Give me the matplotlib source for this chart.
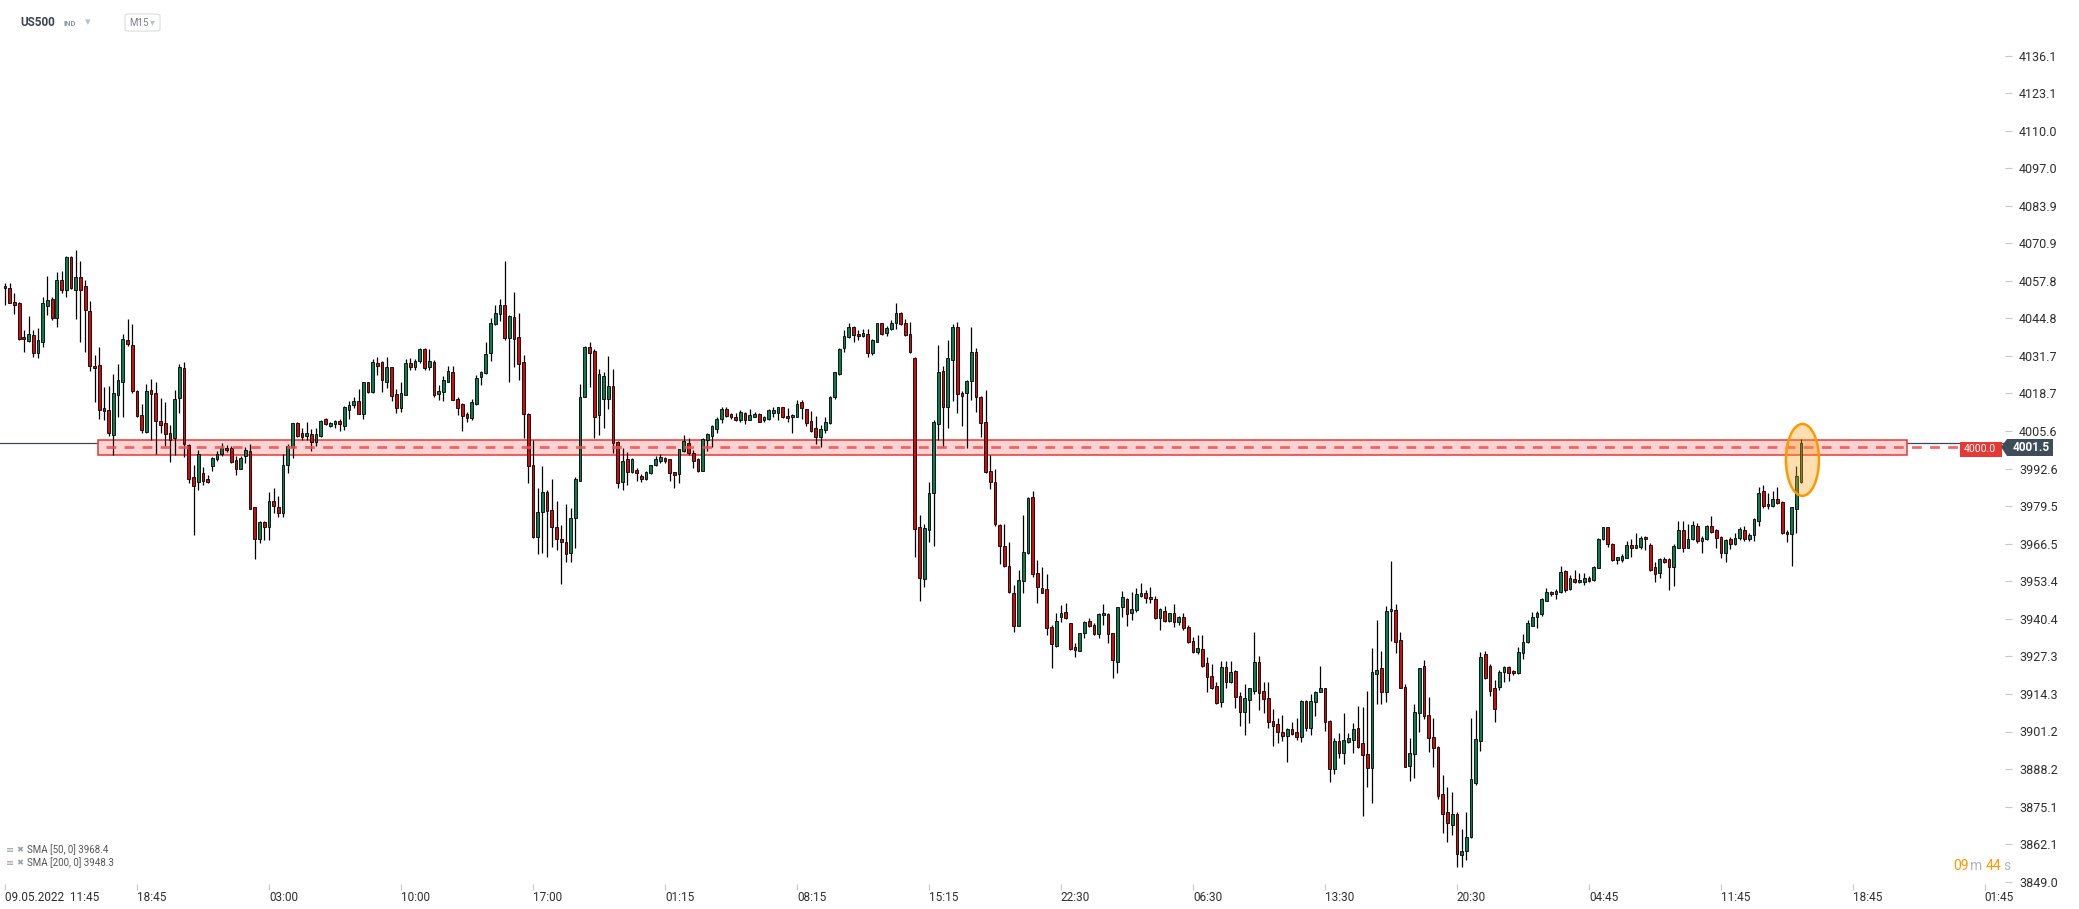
import numpy as np
import matplotlib.pyplot as plt
from matplotlib.patches import Rectangle, Ellipse, FancyBboxPatch, Polygon

# US500 M15 candles (O/H/L/C)
opens = [
    4056.0, 4055.5, 4050.4, 4050.1, 4038.3, 4037.0, 4038.9, 4032.8, 4036.4, 4049.2,
    4051.4, 4045.0, 4058.0, 4054.7, 4066.1, 4054.7, 4059.0, 4056.2, 4047.3, 4028.2,
    4028.4, 4013.6, 4013.1, 4004.3, 4018.3, 4022.8, 4037.2, 4035.4, 4019.5, 4011.2,
    4005.4, 4019.9, 4019.0, 4009.0, 4008.4, 4005.1, 4003.3, 4017.0, 4027.7, 4000.7,
    3989.5, 3987.8, 3991.2, 3988.9, 3993.6, 3996.0, 3997.7, 3999.7, 3999.9, 3995.5,
    3992.5, 3996.8, 3998.7, 3979.1, 3968.2, 3973.9, 3972.1, 3981.2, 3979.3, 3977.0,
    3993.7, 4000.2, 4008.3,
    4004.8, 4004.0, 4004.5, 4001.7, 4004.0, 4009.7, 4007.5, 4008.1, 4009.1, 4007.5,
    4013.1, 4014.5, 4016.1, 4011.7, 4022.6, 4019.1, 4029.3, 4029.5, 4022.8, 4027.8,
    4018.4, 4013.8, 4018.3, 4029.3, 4028.0, 4029.8, 4034.2, 4027.8, 4029.6, 4018.5,
    4019.3, 4022.8, 4026.2, 4016.7, 4014.9, 4011.6, 4010.0, 4014.9, 4024.3, 4025.7,
    4032.7, 4042.7, 4046.2, 4049.5, 4038.1, 4045.2, 4038.2, 4029.5, 4011.5, 3993.8,
    3968.7, 3977.4, 3984.3, 3978.2, 3972.4, 3968.0, 3967.2, 3963.1, 3975.3, 3988.4,
    4017.4, 4035.0, 4033.5, 4011.2,
    4016.9, 4016.9, 4021.3, 4001.7, 3988.0, 3995.8, 3991.5, 3992.1, 3990.0, 3989.1,
    3990.9, 3993.7, 3995.3, 3996.2, 3995.8, 3991.3, 3990.8, 3998.8, 4001.6, 3997.9,
    3995.9, 3991.9, 4002.5, 4003.9, 4006.2, 4009.7, 4013.2, 4011.5, 4010.4, 4009.5,
    4012.0, 4009.4, 4010.6, 4011.6, 4009.3, 4009.7, 4011.8, 4011.8, 4013.9, 4010.9,
    4010.4, 4010.4, 4015.6, 4013.2, 4009.0, 4006.6, 4003.7, 4006.0, 4008.3, 4017.4,
    4025.5, 4034.4, 4038.2, 4041.9, 4039.4, 4038.8, 4039.3, 4032.7, 4036.7, 4043.1,
    4039.6, 4041.0, 4043.1,
    4046.6, 4043.1, 4039.3, 4030.9, 3972.4, 3954.1, 3971.2, 3984.0, 4008.0, 4026.6,
    4013.9, 4030.3, 4041.9, 4018.8, 4018.8, 4023.0, 4033.2, 4017.6, 4008.9, 3991.9,
    3988.0, 3972.8, 3965.5, 3958.8, 3949.2, 3938.0, 3953.6, 3963.1, 3982.6, 3956.2,
    3951.0, 3950.6, 3937.4, 3931.0, 3940.9, 3942.6, 3938.8, 3930.7, 3929.3, 3935.3,
    3939.6, 3938.2, 3935.0, 3941.6, 3942.0, 3935.3, 3925.5, 3944.6, 3947.3, 3942.3,
    3943.4, 3948.4, 3949.2, 3947.8, 3947.4, 3940.5, 3943.2, 3939.7, 3942.3, 3939.4,
    3940.9, 3937.6, 3932.8, 3929.0,
    3929.8, 3924.9, 3920.6, 3917.0, 3911.6, 3923.5, 3918.3, 3922.2, 3913.5, 3908.1,
    3912.1, 3915.3, 3925.2, 3915.3, 3912.7, 3904.8, 3903.7, 3901.1, 3899.7, 3901.9,
    3900.9, 3899.4, 3911.9, 3902.5, 3911.3, 3914.8, 3916.2, 3904.8, 3888.1, 3897.9,
    3893.6, 3897.4, 3898.1, 3902.3, 3897.1, 3893.3, 3888.4, 3921.1, 3923.2, 3914.8,
    3943.1, 3943.4, 3933.0, 3916.6, 3889.3, 3893.3, 3907.5, 3924.0, 3906.9, 3899.3,
    3895.8, 3879.4, 3873.1, 3868.7, 3872.4, 3858.3, 3859.6, 3864.6, 3883.2, 3897.9,
    3928.1, 3924.1, 3916.4, 3916.8,
    3922.0, 3923.7, 3922.2, 3921.4, 3928.4, 3932.4, 3938.0, 3940.9, 3941.9, 3946.7,
    3949.6, 3948.9, 3949.6, 3957.0, 3950.6, 3954.2, 3953.0, 3953.3, 3954.4, 3953.8,
    3958.1, 3968.0, 3972.2, 3966.3, 3960.8, 3960.8, 3961.6, 3966.0, 3965.1, 3965.4,
    3968.9, 3966.0, 3958.3, 3956.2, 3961.2, 3961.0, 3958.3, 3965.1, 3971.2, 3965.1,
    3968.0, 3972.6, 3967.4, 3968.0, 3972.6, 3971.2, 3968.7, 3963.4, 3968.0, 3966.3,
    3968.3, 3971.2, 3968.2, 3969.5, 3974.4, 3984.9, 3980.3, 3979.4, 3981.9, 3980.8,
    3970.5, 3969.7, 3978.7, 3988.0,
]
highs = [
    4057.2, 4056.9, 4053.5, 4050.4, 4040.7, 4045.6, 4040.7, 4041.6, 4052.1, 4059.5,
    4052.1, 4060.8, 4061.2, 4066.6, 4066.6, 4068.5, 4064.7, 4058.1, 4050.8, 4032.0,
    4034.7, 4021.0, 4021.2, 4025.4, 4028.9, 4039.3, 4044.5, 4042.8, 4019.9, 4015.0,
    4021.9, 4023.6, 4022.8, 4017.1, 4015.6, 4007.7, 4019.9, 4028.9, 4029.5, 4001.1,
    3993.8, 3999.0, 3993.2, 3990.5, 3996.7, 3998.7, 4001.3, 4000.9, 4000.4, 3996.9,
    3996.9, 4000.2, 4001.0, 3979.3, 3974.3, 3974.3, 3984.4, 3985.7, 3983.0, 3997.8,
    4001.1, 4008.5, 4008.7,
    4006.6, 4008.7, 4006.2, 4006.6, 4009.5, 4010.0, 4008.8, 4009.5, 4009.7, 4014.3,
    4015.9, 4017.4, 4020.1, 4022.8, 4022.8, 4030.7, 4031.3, 4029.8, 4031.3, 4028.0,
    4020.1, 4022.8, 4030.7, 4030.9, 4030.6, 4034.4, 4034.5, 4034.0, 4030.3, 4021.6,
    4024.8, 4028.3, 4028.3, 4017.6, 4015.3, 4012.4, 4016.7, 4025.1, 4026.5, 4036.7,
    4044.8, 4049.5, 4051.4, 4064.8, 4046.0, 4054.1, 4046.8, 4032.1, 4011.8, 4002.5,
    3985.7, 3993.5, 3985.1, 3988.9, 3981.3, 3973.0, 3980.3, 3978.8, 3989.8, 4021.9,
    4035.2, 4036.5, 4034.0, 4027.2,
    4026.3, 4031.7, 4027.2, 4002.0, 3999.6, 3998.5, 3996.2, 3992.7, 3990.7, 3991.9,
    3993.9, 3997.0, 3997.7, 3996.7, 3996.0, 3991.5, 3999.5, 4004.3, 4003.1, 3999.1,
    3996.3, 4003.3, 4004.9, 4007.6, 4010.6, 4014.1, 4014.1, 4012.0, 4011.8, 4013.0,
    4012.4, 4013.3, 4012.3, 4011.8, 4010.9, 4013.2, 4013.9, 4014.1, 4014.1, 4013.5,
    4011.6, 4016.4, 4016.4, 4013.4, 4012.6, 4010.9, 4007.7, 4010.4, 4017.8, 4026.3,
    4034.4, 4040.8, 4043.1, 4042.2, 4040.8, 4041.0, 4041.0, 4037.5, 4043.3, 4043.3,
    4042.2, 4044.2, 4050.0,
    4047.1, 4044.5, 4043.4, 4031.3, 3976.5, 3973.3, 3988.0, 4009.5, 4035.6, 4028.3,
    4037.3, 4042.9, 4043.4, 4019.7, 4023.4, 4041.7, 4034.4, 4017.9, 4019.9, 3997.3,
    3992.3, 3973.3, 3973.3, 3967.2, 3952.1, 3957.3, 3976.5, 3982.8, 3984.8, 3960.8,
    3958.2, 3955.9, 3938.2, 3942.3, 3945.2, 3946.0, 3939.0, 3932.1, 3935.6, 3939.7,
    3940.8, 3939.0, 3942.3, 3945.6, 3942.3, 3935.6, 3944.6, 3950.2, 3947.7, 3949.6,
    3951.0, 3952.9, 3950.4, 3951.5, 3948.3, 3944.0, 3944.8, 3942.5, 3945.5, 3941.4,
    3942.5, 3938.2, 3934.2, 3934.7,
    3934.7, 3927.2, 3924.7, 3918.3, 3925.7, 3925.7, 3925.7, 3922.6, 3915.0, 3917.6,
    3916.4, 3935.7, 3927.4, 3918.5, 3918.5, 3909.0, 3905.8, 3906.9, 3902.3, 3904.4,
    3905.8, 3912.1, 3912.1, 3914.1, 3915.3, 3924.0, 3916.4, 3905.2, 3898.8, 3900.6,
    3907.5, 3900.6, 3904.1, 3910.1, 3909.6, 3915.3, 3930.1, 3940.0, 3929.2, 3944.9,
    3960.5, 3945.4, 3935.7, 3917.6, 3898.8, 3910.6, 3923.4, 3926.1, 3913.1, 3905.8,
    3896.3, 3886.1, 3881.8, 3880.0, 3873.1, 3867.3, 3873.1, 3905.8, 3908.7, 3928.7,
    3929.2, 3924.6, 3919.1, 3922.6,
    3924.0, 3924.0, 3922.6, 3930.5, 3935.0, 3939.9, 3942.9, 3943.1, 3947.5, 3951.0,
    3950.0, 3950.6, 3958.7, 3957.3, 3955.6, 3957.3, 3956.2, 3956.2, 3955.2, 3958.7,
    3968.3, 3972.4, 3972.4, 3966.6, 3962.0, 3962.8, 3967.4, 3968.0, 3970.3, 3969.1,
    3969.1, 3966.8, 3960.2, 3961.4, 3961.7, 3961.4, 3966.3, 3974.4, 3974.4, 3973.2,
    3974.4, 3973.6, 3969.1, 3973.0, 3976.1, 3971.6, 3969.1, 3968.0, 3968.7, 3970.1,
    3972.4, 3972.6, 3970.1, 3975.3, 3986.3, 3986.9, 3984.0, 3984.9, 3986.1, 3981.4,
    3971.2, 3979.3, 3993.5, 4002.9,
]
lows = [
    4049.4, 4050.0, 4046.3, 4037.2, 4033.2, 4036.7, 4031.2, 4030.9, 4034.9, 4045.9,
    4044.2, 4041.9, 4053.5, 4052.1, 4054.9, 4044.7, 4036.7, 4033.2, 4026.6, 4015.8,
    4009.8, 4009.4, 4003.9, 3997.3, 4010.6, 4010.6, 4035.2, 4018.7, 4010.6, 4005.0,
    4005.0, 4002.5, 3997.8, 4004.8, 4000.4, 3995.0, 3997.3, 4012.0, 3996.7, 3987.4,
    3969.5, 3985.3, 3986.8, 3987.6, 3991.8, 3995.3, 3996.9, 3998.3, 3994.4, 3990.3,
    3992.3, 3994.4, 3978.4, 3961.3, 3966.6, 3967.7, 3967.7, 3977.0, 3975.6, 3975.8,
    3991.2, 3996.4, 4003.6,
    4002.5, 4002.5, 3998.8, 4000.4, 4003.7, 4007.7, 4007.2, 4006.6, 4005.8, 4006.0,
    4009.7, 4013.8, 4011.5, 4009.7, 4019.0, 4018.8, 4025.1, 4019.3, 4020.5, 4015.9,
    4011.8, 4012.4, 4018.2, 4026.9, 4026.9, 4029.2, 4026.9, 4026.9, 4017.4, 4016.4,
    4015.9, 4022.5, 4016.4, 4011.2, 4005.7, 4008.9, 4009.5, 4014.7, 4021.6, 4025.5,
    4030.0, 4042.5, 4043.9, 4037.3, 4022.8, 4028.0, 4023.2, 4003.1, 3987.5, 3968.3,
    3962.9, 3963.1, 3962.0, 3965.2, 3964.3, 3952.4, 3960.2, 3960.2, 3964.9, 3988.4,
    4017.4, 4021.1, 4003.1, 4004.3,
    4006.6, 4013.2, 3997.9, 3986.0, 3985.2, 3986.7, 3991.2, 3988.1, 3988.0, 3988.6,
    3990.7, 3993.5, 3994.4, 3994.4, 3988.4, 3986.0, 3987.5, 3998.2, 3997.3, 3992.7,
    3991.4, 3991.9, 3998.8, 4000.0, 4004.9, 4008.3, 4010.6, 4009.7, 4009.2, 4008.9,
    4008.1, 4009.3, 4010.4, 4008.7, 4008.8, 4009.5, 4010.4, 4009.3, 4010.2, 4008.8,
    4005.1, 4010.4, 4009.7, 4007.4, 4005.4, 4001.1, 4000.2, 4005.1, 4008.0, 4016.7,
    4025.1, 4033.2, 4037.9, 4036.4, 4037.3, 4038.2, 4031.3, 4032.1, 4036.4, 4039.0,
    4038.5, 4040.8, 4041.0,
    4042.5, 4038.7, 4032.7, 3961.7, 3946.7, 3951.5, 3967.2, 3965.7, 4002.5, 4000.2,
    4006.8, 4015.9, 4012.0, 4007.4, 3999.6, 4016.4, 4012.4, 4003.5, 3991.0, 3985.4,
    3972.6, 3959.4, 3958.3, 3949.2, 3935.9, 3938.0, 3949.2, 3962.9, 3955.0, 3945.8,
    3949.2, 3934.8, 3923.2, 3930.7, 3939.4, 3940.3, 3929.5, 3927.2, 3929.2, 3933.6,
    3937.6, 3934.8, 3933.8, 3938.2, 3932.1, 3919.9, 3921.7, 3941.1, 3938.0, 3940.0,
    3942.9, 3947.8, 3946.0, 3945.8, 3940.2, 3936.5, 3939.4, 3939.4, 3937.4, 3938.2,
    3936.5, 3931.8, 3928.6, 3928.1,
    3923.7, 3914.8, 3916.0, 3910.8, 3909.8, 3916.2, 3917.9, 3909.5, 3903.2, 3900.0,
    3904.0, 3914.1, 3908.7, 3907.7, 3902.3, 3896.3, 3897.3, 3898.0, 3890.7, 3900.0,
    3898.2, 3897.7, 3901.4, 3900.0, 3906.7, 3914.8, 3901.4, 3883.8, 3886.3, 3891.9,
    3889.9, 3897.3, 3893.9, 3895.6, 3871.9, 3882.0, 3876.2, 3910.6, 3910.6, 3911.6,
    3932.7, 3928.4, 3916.2, 3889.0, 3884.0, 3885.2, 3900.9, 3905.6, 3894.2, 3889.0,
    3877.6, 3866.0, 3862.7, 3865.2, 3854.2, 3854.2, 3856.5, 3864.1, 3882.6, 3894.5,
    3919.4, 3913.6, 3904.4, 3915.6,
    3918.5, 3918.9, 3920.8, 3921.2, 3926.3, 3932.1, 3937.9, 3937.3, 3941.5, 3946.5,
    3948.4, 3947.1, 3949.2, 3949.8, 3950.4, 3952.9, 3952.7, 3952.1, 3953.3, 3953.6,
    3957.9, 3967.8, 3965.2, 3960.6, 3959.3, 3960.2, 3961.4, 3962.0, 3964.9, 3964.5,
    3964.3, 3957.1, 3953.3, 3954.4, 3959.7, 3950.4, 3951.8, 3964.9, 3963.7, 3964.9,
    3967.8, 3966.8, 3963.1, 3967.8, 3970.3, 3964.9, 3961.4, 3960.2, 3964.5, 3966.0,
    3967.8, 3967.4, 3967.5, 3967.5, 3972.6, 3978.8, 3978.5, 3979.1, 3980.3, 3969.7,
    3967.2, 3958.8, 3970.3, 3987.7,
]
closes = [
    4055.2, 4050.2, 4049.6, 4037.7, 4037.5, 4039.2, 4032.8, 4037.2, 4050.0, 4051.0,
    4044.9, 4058.0, 4054.7, 4066.1, 4055.2, 4059.0, 4054.7, 4047.8, 4028.3, 4027.4,
    4013.0, 4012.7, 4004.8, 4018.7, 4023.2, 4037.5, 4035.7, 4019.7, 4010.9, 4006.0,
    4019.5, 4018.6, 4009.2, 4007.8, 4004.6, 4002.5, 4016.6, 4028.0, 4001.1, 3988.8,
    3986.6, 3997.8, 3988.3, 3988.0, 3996.1, 3997.8, 3999.6, 3999.0, 3994.7, 3992.5,
    3996.4, 3999.0, 3978.7, 3968.0, 3973.9, 3972.1, 3981.2, 3979.6, 3977.2, 3993.7,
    4000.5, 4008.3, 4004.0,
    4003.7, 4005.0, 4001.7, 4004.5, 4009.0, 4008.0, 4008.4, 4009.1, 4008.0, 4013.9,
    4014.6, 4016.1, 4011.7, 4022.6, 4019.2, 4029.6, 4028.4, 4023.2, 4027.8, 4017.9,
    4013.8, 4018.8, 4029.2, 4028.0, 4030.0, 4034.0, 4027.6, 4030.0, 4018.2, 4019.6,
    4023.4, 4026.4, 4016.5, 4013.8, 4011.0, 4010.0, 4015.6, 4024.0, 4026.0, 4032.3,
    4043.1, 4046.6, 4049.5, 4038.1, 4045.5, 4037.7, 4028.8, 4011.6, 3993.3, 3968.9,
    3977.4, 3984.3, 3978.0, 3972.2, 3968.0, 3967.0, 3962.9, 3975.3, 3989.0, 4017.6,
    4035.0, 4032.7, 4010.6, 4025.4,
    4024.8, 4021.3, 4001.4, 3987.7, 3995.1, 3991.5, 3995.8, 3990.9, 3988.9, 3991.5,
    3993.7, 3995.8, 3996.5, 3995.3, 3991.2, 3990.5, 3999.3, 4002.2, 3997.9, 3995.3,
    3991.9, 4002.8, 4004.5, 4007.2, 4009.8, 4013.3, 4011.0, 4010.4, 4009.5, 4012.2,
    4009.3, 4011.2, 4011.6, 4008.9, 4010.6, 4013.0, 4013.0, 4013.9, 4010.4, 4010.1,
    4011.2, 4015.0, 4013.5, 4008.3, 4005.8, 4003.7, 4006.2, 4008.7, 4017.6, 4026.1,
    4034.1, 4038.7, 4041.7, 4038.9, 4038.5, 4039.7, 4032.7, 4037.3, 4043.1, 4039.3,
    4041.4, 4043.1, 4046.6,
    4042.9, 4039.0, 4033.0, 3971.5, 3954.4, 3971.8, 3984.0, 4008.9, 4026.2, 4013.9,
    4030.9, 4041.7, 4018.4, 4017.9, 4023.0, 4033.0, 4017.4, 4008.3, 3991.5, 3988.0,
    3973.2, 3965.5, 3958.8, 3949.8, 3938.0, 3953.9, 3963.5, 3982.3, 3956.0, 3951.3,
    3949.5, 3937.1, 3931.5, 3939.7, 3942.5, 3940.5, 3929.8, 3929.5, 3935.3, 3939.4,
    3937.9, 3935.0, 3942.0, 3942.3, 3935.0, 3926.1, 3944.4, 3947.8, 3942.0, 3943.7,
    3949.0, 3949.2, 3947.5, 3947.1, 3940.5, 3943.7, 3939.7, 3942.3, 3939.4, 3940.9,
    3937.1, 3932.4, 3929.0, 3930.1,
    3924.1, 3920.3, 3916.2, 3911.2, 3923.5, 3918.3, 3921.8, 3913.1, 3908.1, 3912.7,
    3916.2, 3925.2, 3914.5, 3912.4, 3904.4, 3903.2, 3901.1, 3899.7, 3901.9, 3900.3,
    3899.4, 3911.8, 3902.5, 3911.8, 3914.8, 3916.2, 3904.4, 3888.1, 3897.9, 3893.6,
    3898.2, 3899.1, 3902.1, 3895.9, 3893.0, 3888.4, 3921.8, 3922.6, 3914.8, 3943.1,
    3943.8, 3932.4, 3916.4, 3889.0, 3893.6, 3907.9, 3923.2, 3906.7, 3899.1, 3895.6,
    3878.9, 3872.7, 3869.3, 3872.4, 3858.5, 3859.8, 3864.6, 3884.6, 3898.6, 3927.0,
    3919.9, 3915.4, 3908.9, 3922.0,
    3923.7, 3921.4, 3921.4, 3928.7, 3932.4, 3939.0, 3941.1, 3942.3, 3947.1, 3949.8,
    3948.9, 3950.1, 3956.7, 3950.4, 3954.4, 3953.3, 3953.9, 3954.4, 3953.6, 3958.3,
    3968.0, 3972.2, 3966.3, 3960.8, 3961.7, 3962.3, 3966.0, 3964.9, 3966.0, 3968.6,
    3968.0, 3957.3, 3955.8, 3961.2, 3960.2, 3958.3, 3965.7, 3971.2, 3965.1, 3968.0,
    3973.0, 3967.5, 3968.6, 3972.6, 3970.6, 3968.6, 3963.4, 3967.8, 3966.3, 3968.3,
    3971.6, 3968.0, 3969.5, 3974.9, 3984.2, 3979.6, 3979.4, 3981.9, 3980.5, 3970.1,
    3969.7, 3979.1, 3990.0, 4001.5,
]

y_ticks = [4136.1, 4123.1, 4110.0, 4097.0, 4083.9, 4070.9, 4057.8, 4044.8, 4031.7,
           4018.7, 4005.6, 3992.6, 3979.5, 3966.5, 3953.4, 3940.4, 3927.3, 3914.3,
           3901.2, 3888.2, 3875.1, 3862.1, 3849.0]
x_tick_labels = ['09.05.2022  11:45', '18:45', '03:00', '10:00', '17:00', '01:15',
                 '08:15', '15:15', '22:30', '06:30', '13:30', '20:30', '04:45',
                 '11:45', '18:45', '01:45']
bars_per_label = 28

level = 4000.0
zone_low, zone_high = 3997.2, 4002.4
last_price = 4001.5
sma_text = ['SMA [50, 0] 3968.4', 'SMA [200, 0] 3948.3']

o = np.array(opens)
h = np.array(highs)
l = np.array(lows)
c = np.array(closes)
x = np.arange(len(c))

W, H = 2079, 909
fig = plt.figure(figsize=(W / 100, H / 100), dpi=100)
fig.patch.set_facecolor('white')
ax = fig.add_axes([0, 25 / H, 2005 / W, (884 - 30) / H])
ax.set_xlim(-1.06, 424.27)
ax.set_ylim(3848.2, 4145.0)

green = '#0b7d4c'
red = '#d10a0a'
up = c >= o
colors = np.where(up, green, red)

# wicks then bodies
ax.vlines(x, l, h, color='black', lw=0.9, zorder=2)
body_low = np.minimum(o, c)
body_h = np.maximum(np.abs(c - o), 0.5)
ax.bar(x, body_h, bottom=body_low, width=0.58, color=colors,
       edgecolor='black', linewidth=0.6, zorder=3)

# current price line
ax.axhline(last_price, color='#3d4a55', lw=0.9, zorder=1)

# support zone and 4000 level
ax.add_patch(Rectangle((19.7, zone_low), 403.5 - 19.7, zone_high - zone_low,
                       facecolor='#fdd3d3', edgecolor='#e53935', lw=1.1, zorder=1.5))
ax.plot([21.5, 415], [level, level], color='#ee5050', lw=2.0,
        dashes=(3.5, 3), zorder=4, alpha=0.85)

# highlight on last candles
ax.add_patch(Ellipse((381.3, 3995.6), 7.0, 25.0, facecolor=(1.0, 0.65, 0.1, 0.35),
                     edgecolor='#ff9800', lw=1.8, zorder=5))

for s in ax.spines.values():
    s.set_visible(False)

ax.yaxis.tick_right()
ax.set_yticks(y_ticks)
ax.set_yticklabels(['%.1f' % v for v in y_ticks])
ax.tick_params(axis='y', length=5, width=0.8, color='#c8c8c8', pad=5,
               labelsize=9, labelcolor='#2e2e2e')
ax.set_xticks(np.arange(len(x_tick_labels)) * bars_per_label)
ax.set_xticklabels(x_tick_labels)
ax.tick_params(axis='x', length=4, width=0.8, color='#c8c8c8', pad=1,
               labelsize=8.5, labelcolor='#2e2e2e')
for t in ax.get_xticklabels():
    t.set_horizontalalignment('left')
for t in ax.get_xticklabels() + ax.get_yticklabels():
    t.set_fontfamily(['Liberation Sans Narrow', 'Roboto', 'DejaVu Sans'])


def fx(px):
    return px / W


def fy(py):
    return 1 - py / H


# price labels on the axis
fig.patches.append(Rectangle((fx(1960), fy(457)), fx(42), 15 / H, transform=fig.transFigure,
                             facecolor='#e53935', edgecolor='none', zorder=10))
fig.text(fx(1980), fy(449.5), '4000.0', color='white', fontsize=7.5, ha='center',
         va='center', zorder=11, family='Roboto')
fig.patches.append(Polygon([(fx(2001), fy(447)), (fx(2007), fy(439)), (fx(2053), fy(439)),
                            (fx(2053), fy(456)), (fx(2007), fy(456))], closed=True,
                           transform=fig.transFigure, facecolor='#3e4e58',
                           edgecolor='none', zorder=10))
fig.text(fx(2031), fy(447.5), '%.1f' % last_price, color='white', fontsize=8.5,
         fontweight='bold', ha='center', va='center', zorder=11, family='Roboto')

# header
fig.text(fx(20), fy(22), 'US500', fontsize=8.5, fontweight='bold', color='#3a4550',
         va='center', family='Roboto')
fig.text(fx(64), fy(23), 'IND', fontsize=5.5, fontweight='bold', color='#8c98a2',
         va='center', family='Roboto')
fig.text(fx(85), fy(22), '▾', fontsize=8, color='#b8c0c6', va='center')
fig.patches.append(FancyBboxPatch((fx(125), fy(31)), fx(35), 17 / H,
                                  boxstyle='round,pad=0,rounding_size=0.002',
                                  transform=fig.transFigure, facecolor='white',
                                  edgecolor='#dcdcdc', lw=0.8))
fig.text(fx(129), fy(22.5), 'M15', fontsize=7, color='#7a8088', va='center', family='Roboto')
fig.text(fx(150), fy(22), '▾', fontsize=7, color='#b8c0c6', va='center')

# indicator legend
for i, s in enumerate(sma_text):
    yy = fy(850 + 13 * i)
    fig.text(fx(6), yy, '≡', fontsize=7, color='#9aa0a6', va='center')
    fig.text(fx(16), yy, '✖', fontsize=6, color='#9aa0a6', va='center')
    fig.text(fx(27), yy, s, fontsize=7, color='#555555', va='center',
             family=['Liberation Sans Narrow', 'Roboto'])

# candle countdown
for txt, px, col in [('09', 1953, '#ff9800'), ('m', 1970, '#b0b6bc'),
                     ('44', 1986, '#ff9800'), ('s', 2003, '#b0b6bc')]:
    fig.text(fx(px), fy(866), txt, fontsize=10, color=col, va='center', family='Roboto')

fig.savefig('out.png', dpi=100, facecolor='white')
